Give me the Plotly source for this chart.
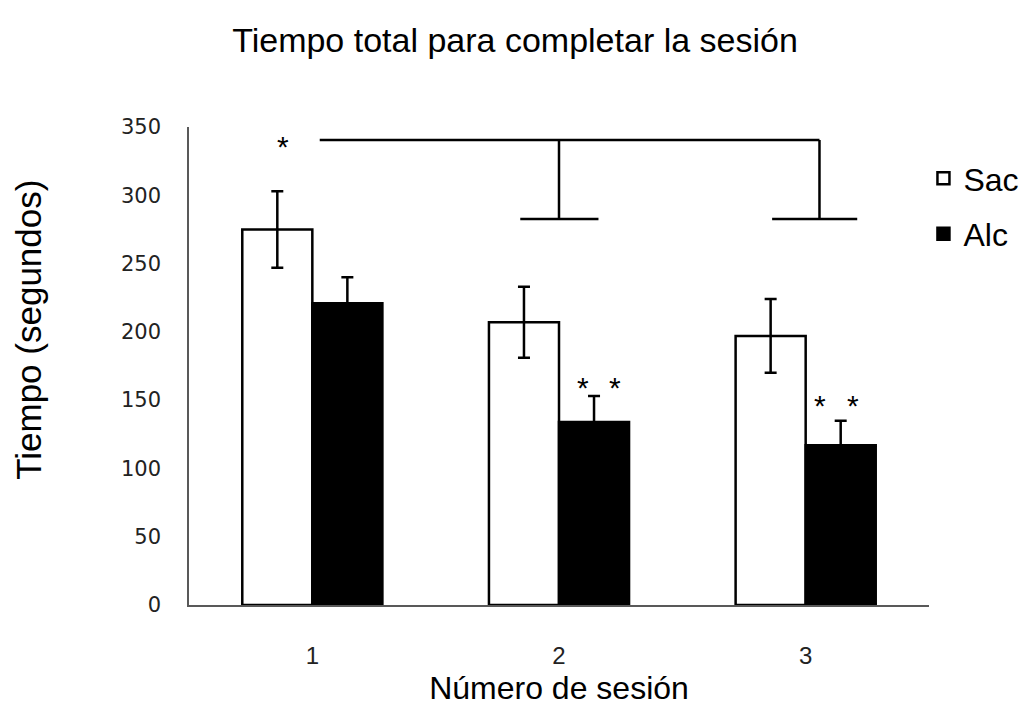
import plotly.graph_objects as go

# Session data: mean completion time (s) and standard error per group
sessions = ["1", "2", "3"]
sac_mean = [275, 207, 197]
sac_err = [28, 26, 27]
alc_mean = [221, 134, 117]
alc_err = [19, 19, 18]

# Significance bracket geometry (data units on the numeric x axis / y axis)
bracket_top = 340.5
bracket_foot = 282.6
bracket_x_start = 0.03
bracket_drops = [1.0, 2.056]
foot_spans = [(0.843, 1.160), (1.864, 2.209)]

# Significance markers: (x, y)
stars = [(-0.117, 339), (1.097, 162.5), (1.228, 162.5), (2.060, 149), (2.191, 149)]

x = list(range(len(sessions)))
LINE = "#595959"
FONT = "Liberation Sans, Arial, sans-serif"

fig = go.Figure()
fig.add_trace(go.Bar(
    x=x, y=sac_mean, name="Sac", legendgroup="sac",
    marker=dict(color="white", line=dict(color="black", width=2.5)),
    error_y=dict(type="data", array=sac_err, color="black", thickness=2.5, width=6),
))
fig.add_trace(go.Bar(
    x=x, y=alc_mean, name="Alc", legendgroup="alc",
    marker=dict(color="black", line=dict(color="black", width=2.5)),
    error_y=dict(type="data", array=alc_err, color="black", thickness=2.5, width=6),
))

# Bracket lines
shape_line = dict(color="black", width=2.5)
fig.add_shape(type="line", x0=bracket_x_start, x1=bracket_drops[-1],
              y0=bracket_top, y1=bracket_top, line=shape_line)
for xd, (a, b) in zip(bracket_drops, foot_spans):
    fig.add_shape(type="line", x0=xd, x1=xd, y0=bracket_top, y1=bracket_foot, line=shape_line)
    fig.add_shape(type="line", x0=a, x1=b, y0=bracket_foot, y1=bracket_foot, line=shape_line)

for sx, sy in stars:
    fig.add_annotation(x=sx, y=sy, text="*", showarrow=False, yshift=-4,
                       font=dict(family=FONT, size=30, color="black"))

fig.add_annotation(text="Tiempo (segundos)", textangle=-90, showarrow=False,
                   xref="paper", yref="paper", x=-0.218, xanchor="center",
                   y=0.575, yanchor="middle",
                   font=dict(family=FONT, size=35, color="black"))

fig.update_layout(
    width=1030, height=706,
    margin=dict(l=189, r=101, t=127, b=101, autoexpand=False),
    paper_bgcolor="white", plot_bgcolor="white",
    barmode="group", bargap=0.432, bargroupgap=0,
    title=dict(text="Tiempo total para completar la sesión", x=0.5, xanchor="center",
               y=0.943, yanchor="middle", font=dict(family=FONT, size=34, color="black")),
    legend=dict(x=0.9925, y=0.95, xanchor="left", yanchor="top",
                font=dict(family=FONT, size=32, color="black"),
                tracegroupgap=11, bgcolor="rgba(0,0,0,0)"),
    showlegend=True,
    xaxis=dict(range=[-0.5, 2.5], tickvals=x, ticktext=sessions,
               showline=True, linecolor=LINE, linewidth=1.5, showgrid=False,
               zeroline=False, ticks="", ticklabelstandoff=28,
               tickfont=dict(family=FONT, size=24, color="#222"),
               title=dict(text="Número de sesión", standoff=20,
                          font=dict(family=FONT, size=32, color="black"))),
    yaxis=dict(range=[0, 350], tickvals=[0, 50, 100, 150, 200, 250, 300, 350],
               showline=True, linecolor=LINE, linewidth=1.5, showgrid=False,
               zeroline=False, ticks="", ticklabelstandoff=22,
               tickfont=dict(family="DejaVu Sans, sans-serif", size=21, color="#222")),
)

fig.write_html("out.html")
